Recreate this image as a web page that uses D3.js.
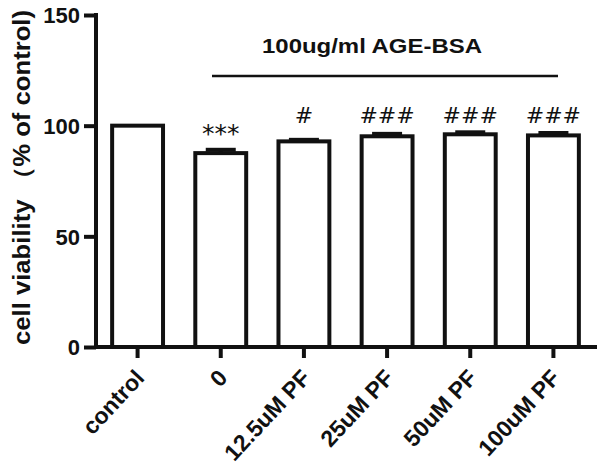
<!DOCTYPE html>
<html><head><meta charset="utf-8">
<script src="https://cdn.jsdelivr.net/npm/d3@7"></script>
<style>body{margin:0;background:#fff}svg{display:block}text{font-family:"Liberation Sans",Arial,sans-serif;font-weight:bold;fill:#111}</style>
</head><body>
<script>
const categories = ["control","0","12.5uM PF","25uM PF","50uM PF","100uM PF"];
const values = [100, 87.6, 92.9, 95.2, 96.1, 95.6];
const errors = [0, 1.5, 0.7, 1.1, 0.9, 1.1];
const marks = ["", "***", "#", "###", "###", "###"];
const yTicks = [0, 50, 100, 150];
const groupLabel = "100ug/ml AGE-BSA";
const yLabel = "cell viability （% of control)";

const W = 600, H = 469;
const svg = d3.select("body").append("svg").attr("width", W).attr("height", H);
const x = d3.scaleBand().domain(categories).range([96, 595]).paddingInner(0).paddingOuter(0);
const y = d3.scaleLinear().domain([0, 150]).range([347, 15]);
const sw = 4;
const bw = x.bandwidth() * 0.66;

// bars
svg.selectAll("rect.bar").data(categories).enter().append("rect")
  .attr("x", d => x(d) + x.bandwidth()/2 - bw/2 + sw/2)
  .attr("y", (d,i) => y(values[i]))
  .attr("width", bw - sw)
  .attr("height", (d,i) => y(0) - y(values[i]))
  .attr("fill", "#fff").attr("stroke", "#111").attr("stroke-width", sw);

// error caps
const capW = 30;
categories.forEach((d,i) => {
  if (errors[i] <= 0) return;
  const cx = x(d) + x.bandwidth()/2;
  svg.append("line").attr("x1", cx).attr("x2", cx).attr("y1", y(values[i])).attr("y2", y(values[i]+errors[i]))
    .attr("stroke", "#111").attr("stroke-width", sw);
  svg.append("line").attr("x1", cx - capW/2).attr("x2", cx + capW/2)
    .attr("y1", y(values[i]+errors[i])).attr("y2", y(values[i]+errors[i]))
    .attr("stroke", "#111").attr("stroke-width", sw);
});

// axes
const yAxis = svg.append("g").attr("transform", "translate(96,0)")
  .call(d3.axisLeft(y).tickValues(yTicks).tickSize(12).tickPadding(4).tickFormat(d3.format("d")));
const xAxis = svg.append("g").attr("transform", "translate(0,347)")
  .call(d3.axisBottom(x).tickSize(11).tickPadding(4));
[yAxis, xAxis].forEach(g => {
  g.select(".domain").attr("stroke", "#111").attr("stroke-width", sw).attr("stroke-linecap","square");
  g.selectAll(".tick line").attr("stroke", "#111").attr("stroke-width", sw);
});
yAxis.select(".domain").attr("d", `M0,${y(150)}V${y(0)}`);
xAxis.select(".domain").attr("d", `M96,0H595`);
yAxis.selectAll(".tick text").attr("font-size", 22).attr("dy", "0.36em");
xAxis.selectAll(".tick text").attr("font-size", 23)
  .attr("text-anchor", "end").attr("x", 0).attr("y", 0).attr("dy", 0)
  .attr("transform", "translate(8,32) rotate(-47)");

// annotations
svg.selectAll("text.mark").data(categories).enter().append("text")
  .attr("class","mark")
  .attr("x", d => x(d) + x.bandwidth()/2)
  .attr("y", (d,i) => marks[i].includes("#") ? y(100) - 3 : y(values[i] + errors[i]) - 8)
  .attr("text-anchor", "middle")
  .style("font-family", "'DejaVu Sans',sans-serif").style("font-weight", "normal")
  .attr("font-size", (d,i) => marks[i].includes("#") ? 22 : 25)
  .text((d,i) => marks[i]);

// group label and line
svg.append("text").attr("x", 262).attr("y", 53).attr("font-size", 21)
  .attr("textLength", 220).attr("lengthAdjust", "spacingAndGlyphs").text(groupLabel);
svg.append("line").attr("x1", 212).attr("x2", 558).attr("y1", 76).attr("y2", 76).attr("stroke", "#111").attr("stroke-width", 2.5);

// y label
svg.append("text").attr("transform", "translate(30,345) rotate(-90)")
  .attr("font-size", 23).attr("textLength", 335).attr("lengthAdjust", "spacingAndGlyphs").text(yLabel);
</script>
</body></html>
